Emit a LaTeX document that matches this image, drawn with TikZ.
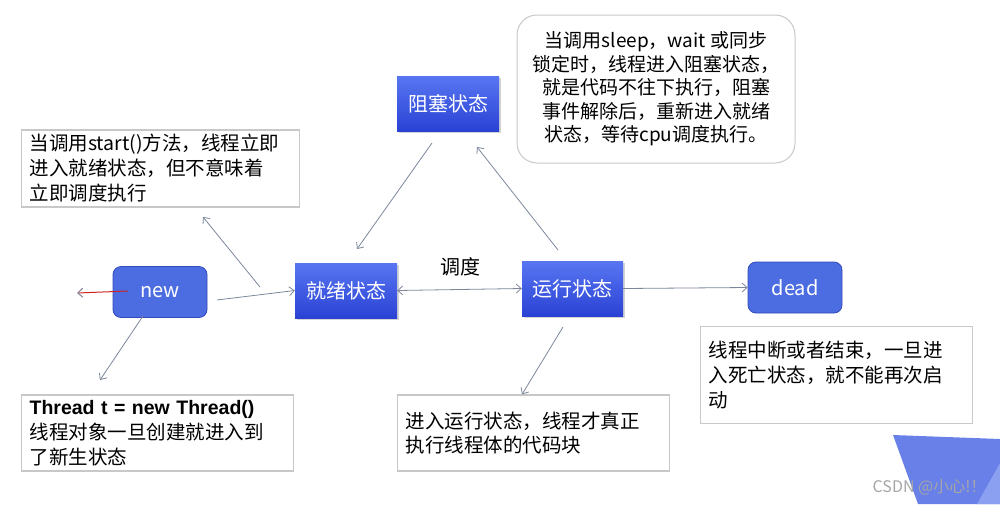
\documentclass[tikz,border=0pt]{standalone}
\usepackage{fontspec}
\setmainfont{Noto Sans CJK SC}
\newfontfamily\latfont{Liberation Sans}
\usetikzlibrary{arrows.meta,shadows,calc}
\definecolor{boxline}{RGB}{200,200,200}
\definecolor{arrowgray}{RGB}{125,135,155}
\definecolor{stTop}{RGB}{88,118,242}
\definecolor{stBot}{RGB}{42,66,212}
\definecolor{rndFill}{RGB}{76,108,226}
\definecolor{rndLine}{RGB}{50,75,185}
\definecolor{triBlue}{RGB}{104,128,232}
\definecolor{triLight}{RGB}{140,160,242}
\definecolor{redline}{RGB}{205,35,35}
\tikzset{
  statebox/.style={rectangle, top color=stTop, bottom color=stBot, draw=none,
    minimum width=102pt, minimum height=55pt, text=white,
    font=\fontsize{20}{24}\selectfont,
    drop shadow={shadow xshift=2pt,shadow yshift=-2pt,opacity=0.35}},
  roundbox/.style={rectangle, rounded corners=8pt, fill=rndFill, draw=rndLine,
    line width=0.8pt, minimum width=94pt, minimum height=51pt, text=white,
    font=\fontsize{20}{24}\selectfont},
  notebox/.style={rectangle, draw=boxline, line width=1.2pt, fill=white,
    align=left, inner xsep=8pt, font=\fontsize{19.5}{25}\selectfont, anchor=west},
  tip/.style={-{Straight Barb[length=5pt,width=9pt]}},
  conn/.style={draw=arrowgray, line width=0.8pt, tip},
}
\begin{document}
\begin{tikzpicture}[x=1pt,y=-1pt]
\useasboundingbox (0,0) rectangle (1000,504);
% decorative corner shape
\fill[triBlue] (893,435) -- (1000,439) -- (1000,504) -- (918,504) -- cycle;
\fill[triLight] (1000,463) -- (1000,504) -- (977,504) -- cycle;

% state nodes
\node[roundbox] (new) at (160,292) {new};
\node[statebox] (ready) at (346,290.5) {就绪状态};
\node[statebox] (block) at (448,103.5) {阻塞状态};
\node[statebox, minimum width=101pt] (run) at (572.5,288.5) {运行状态};
\node[roundbox] (dead) at (795,287.5) {dead};

% notes
\node[notebox, text width=262pt, minimum height=77pt] (startnote) at (21,168.5)
  {当调用start()方法，线程立即\\进入就绪状态，但不意味着\\立即调度执行};
\node[notebox, text width=256pt, minimum height=76pt] (newnote) at (21,433)
  {{\latfont\bfseries Thread t = new Thread()}\\线程对象一旦创建就进入到\\了新生状态};
\node[notebox, text width=256pt, minimum height=76pt, font=\fontsize{19.5}{23.5}\selectfont] (runnote) at (397,433)
  {进入运行状态，线程才真正\\执行线程体的代码块};
\node[notebox, text width=256pt, minimum height=97pt] (deadnote) at (700,375)
  {线程中断或者结束，一旦进\\入死亡状态，就不能再次启\\动};
\node[draw=boxline, line width=1pt, rounded corners=20pt, minimum width=278pt,
  minimum height=148pt, align=center, font=\fontsize{19}{23.5}\selectfont] (bubble) at (656,89)
  {当调用sleep，wait 或同步\\锁定时，线程进入阻塞状态，\\就是代码不往下执行，阻塞\\事件解除后，重新进入就绪\\状态，等待cpu调度执行。};

\node[font=\fontsize{20}{24}\selectfont] (sched) at (460,267) {调度};

% free ends of connectors
\coordinate (redS) at (128,291);
\coordinate (redE) at (77,293);
\coordinate (nrS) at (217,300);
\coordinate (snS) at (260,287);
\coordinate (snE) at (203,217);
\coordinate (ntS) at (143,316);
\coordinate (ntE) at (100,380);
\coordinate (brS) at (432,143);
\coordinate (brE) at (357,249);
\coordinate (rbS) at (558,250);
\coordinate (rbE) at (477,147);
\coordinate (rnS) at (563,327);
\coordinate (rnE) at ($(runnote.north west)+(125,0)$);

% connectors
\draw[conn] (nrS) -- (ready.west);
\draw[conn] (snS) -- (snE);
\draw[conn] (ntS) -- (ntE);
\draw[conn] (brS) -- (brE);
\draw[conn] (rbS) -- (rbE);
\draw[conn, {Straight Barb[length=5pt,width=9pt]}-{Straight Barb[length=5pt,width=9pt]}] (ready.east) -- (run.west);
\draw[conn] (run.east) -- (dead.west);
\draw[conn] (rnS) -- (rnE);
\draw[redline, line width=1pt, -{Straight Barb[length=5pt,width=9pt,color=arrowgray]}] (redS) -- (redE);

% watermark
\node[text=gray!70, font=\fontsize{16}{18}\selectfont, anchor=east] (wm) at (990,487) {CSDN @小心!！};
\end{tikzpicture}
\end{document}
